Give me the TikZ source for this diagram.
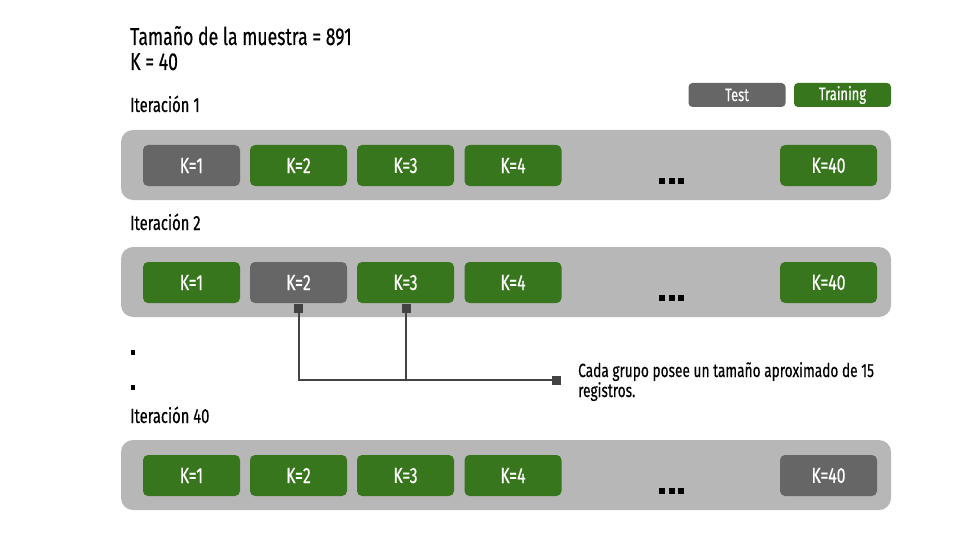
\documentclass[tikz,border=0pt]{standalone}
\usepackage{fontspec}
\setmainfont{Fira Sans}[FakeStretch=0.72, FakeBold=0.4]
\definecolor{kgreen}{HTML}{38761D}
\definecolor{kgray}{HTML}{666666}
\definecolor{bandgray}{HTML}{B7B7B7}
\definecolor{conn}{HTML}{434343}
\newcommand{\fsz}[1]{\fontsize{#1}{#1}\selectfont}
\tikzset{
  band/.style={fill=bandgray, draw=none, rounded corners=12pt, minimum width=770pt, minimum height=70pt, inner sep=0pt},
  kbox/.style={draw=none, rounded corners=5pt, minimum width=97pt, minimum height=41pt, inner sep=0pt, text=white, font=\fsz{22}},
  trainbox/.style={kbox, fill=kgreen},
  testbox/.style={kbox, fill=kgray},
  legbox/.style={draw=none, rounded corners=4pt, minimum width=97pt, minimum height=24pt, inner sep=0pt, text=white, font=\fsz{18}},
  label/.style={anchor=base west, inner sep=0pt, font=\fsz{20.5}},
  dotsq/.style={fill=black, draw=none, minimum width=6pt, minimum height=6pt, inner sep=0pt},
  smalldot/.style={fill=black, draw=none, minimum width=4pt, minimum height=5pt, inner sep=0pt},
  pin/.style={fill=conn, draw=none, minimum width=9pt, minimum height=9pt, inner sep=0pt},
  wire/.style={draw=conn, line width=2pt}
}
\begin{document}
\begin{tikzpicture}[x=1pt,y=-1pt]
\useasboundingbox (0,0) rectangle (960,540);
% title
\node[label, font=\fsz{24.5}] (t1) at (130,45) {Tamaño de la muestra = 891};
\node[label, font=\fsz{24.5}] (t2) at (130,70) {K = 40};
% legend
\node[legbox, fill=kgray] (legtest) at (737,95) {Test};
\node[legbox, fill=kgreen] (legtrain) at (842.5,95) {Training};
% iteration 1
\node[label] (it1) at (130,112) {Iteración 1};
\node[band] (b1) at (506,165) {};
\node[testbox] (a1) at (191.5,165.5) {K=1};
\node[trainbox] (a2) at (298.5,165.5) {K=2};
\node[trainbox] (a3) at (405.5,165.5) {K=3};
\node[trainbox] (a4) at (513,165.5) {K=4};
\node[trainbox] (a40) at (828.5,165.5) {K=40};
\node[dotsq] (ad1) at (662,181) {};
\node[dotsq] (ad2) at (671.5,181) {};
\node[dotsq] (ad3) at (681,181) {};
% iteration 2
\node[label] (it2) at (130,230) {Iteración 2};
\node[band] (b2) at (506,282) {};
\node[trainbox] (c1) at (191.5,282.5) {K=1};
\node[testbox] (c2) at (298.5,282.5) {K=2};
\node[trainbox] (c3) at (405.5,282.5) {K=3};
\node[trainbox] (c4) at (513,282.5) {K=4};
\node[trainbox] (c40) at (828.5,282.5) {K=40};
\node[dotsq] (cd1) at (662,298) {};
\node[dotsq] (cd2) at (671.5,298) {};
\node[dotsq] (cd3) at (681,298) {};
% vertical dots
\node[smalldot] (v1) at (133,352.5) {};
\node[smalldot] (v2) at (133,387) {};
% connector
\node[pin] (p2) at (298.5,308.5) {};
\node[pin] (p3) at (406,308.5) {};
\node[pin] (pend) at (556.5,380) {};
\coordinate (j2) at (298.5,380);
\coordinate (j3) at (406,380);
\draw[wire] (p2.center) -- (j2) -- (pend.center);
\draw[wire] (p3.center) -- (j3);
\node[label, font=\fsz{19}] (cap1) at (578,377) {Cada grupo posee un tamaño aproximado de 15};
\node[label, font=\fsz{19}] (cap2) at (578,397) {registros.};
% iteration 40
\node[label] (it40) at (130,423) {Iteración 40};
\node[band] (b3) at (506,475) {};
\node[trainbox] (e1) at (191.5,475.5) {K=1};
\node[trainbox] (e2) at (298.5,475.5) {K=2};
\node[trainbox] (e3) at (405.5,475.5) {K=3};
\node[trainbox] (e4) at (513,475.5) {K=4};
\node[testbox] (e40) at (828.5,475.5) {K=40};
\node[dotsq] (ed1) at (662,491) {};
\node[dotsq] (ed2) at (671.5,491) {};
\node[dotsq] (ed3) at (681,491) {};
\end{tikzpicture}
\end{document}
